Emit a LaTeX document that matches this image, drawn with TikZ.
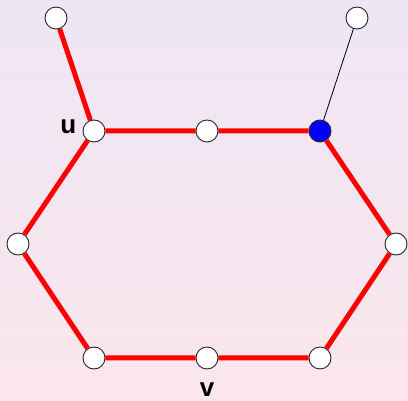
\documentclass[tikz,border=0pt]{standalone}
\usepackage{fontspec}
\setsansfont{Liberation Sans}
\usetikzlibrary{positioning}
\definecolor{bgtop}{RGB}{238,230,245}
\definecolor{bgbottom}{RGB}{251,230,236}
\definecolor{pickblue}{RGB}{0,0,255}

\begin{document}
\begin{tikzpicture}[x=1pt, y=-1pt,
  vertex/.style={circle, draw=black!85, line width=0.9pt, fill=white,
                 minimum size=22pt, inner sep=0pt},
  picked/.style={vertex, fill=pickblue},
  cycleedge/.style={red, line width=5pt},
  thinedge/.style={black, line width=0.8pt},
  vlabel/.style={font=\sffamily\bfseries\fontsize{26}{26}\selectfont, inner sep=0pt},
]
  % background
  \shade[top color=bgtop, bottom color=bgbottom] (0,0) rectangle (408,401);
  \useasboundingbox (0,0) rectangle (408,401);

  % vertices
  \node[vertex] (tl) at (56,18) {};
  \node[vertex] (tr) at (357,18) {};
  \node[vertex] (u) at (94,131) {};
  \node[vertex] (mid) at (207,131) {};
  \node[picked] (w) at (320,131) {};
  \node[vertex] (lft) at (18,244) {};
  \node[vertex] (rgt) at (396,244) {};
  \node[vertex] (bl) at (94,358) {};
  \node[vertex] (v) at (207,358) {};
  \node[vertex] (br) at (320,358) {};

  \node[vlabel, left=6pt of u, yshift=4pt] {u};
  \node[vlabel, below=13pt of v] {v};

  % edges
  \draw[cycleedge] (tl) -- (u);
  \draw[cycleedge] (u) -- (mid) -- (w) -- (rgt) -- (br) -- (v) -- (bl) -- (lft) -- (u);
  \draw[thinedge] (w) -- (tr);
\end{tikzpicture}
\end{document}
